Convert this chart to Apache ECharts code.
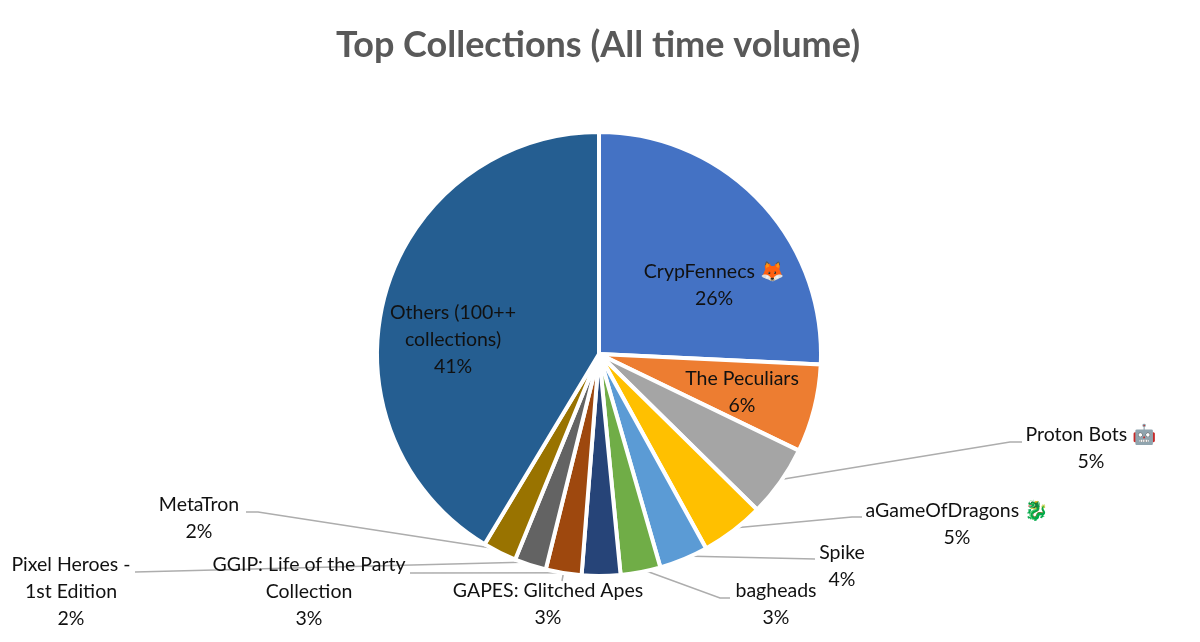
<!DOCTYPE html>
<html><head><meta charset="utf-8">
<style>html,body{margin:0;padding:0;background:#fff}#c{width:1200px;height:642px}</style>
<script src="https://cdn.jsdelivr.net/npm/echarts@6/dist/echarts.min.js"></script>
</head><body><div id="c"></div>
<script>
const names = ['CrypFennecs 🦊','The Peculiars','Proton Bots 🤖','aGameOfDragons 🐉','Spike','bagheads','GGIP: Life of the Party\nCollection','GAPES: Glitched Apes','Pixel Heroes -\n1st Edition','MetaTron','Others (100++\ncollections)'];
const values = [25.7,6.4,5.2,4.6,3.55,2.9,2.8,2.6,2.3,2.45,41.3];
const colors = ['#4472C4','#ED7D31','#A5A5A5','#FFC000','#5B9BD5','#70AD47','#264478','#9E480E','#636363','#997300','#255E91'];

// label centres and leader-line waypoints (layout only)
const labelCentres = [[714,285],[742,392],[1091,448],[957,524],[842,566],[776,604],[309,592],[548,604],[71,592],[199,518],[453,340]];
const leaderWays = [null,null,[[1010,442],[1022,442]],[[852,517],[862,517]],[[815,559]],[[720,598],[730,598]],[[410,573]],[[562,581]],[[135,572]],[[258,512],[246,512]],null];

const cx = 599, cy = 354, R = 222;
const total = values.reduce((a,b)=>a+b,0);
function edgePoint(i){
  let before = 0;
  for(let k=0;k<i;k++) before += values[k];
  const a = (before + values[i]/2)/total*2*Math.PI;
  return [cx + R*0.985*Math.sin(a), cy - R*0.985*Math.cos(a)];
}
const chart = echarts.init(document.getElementById('c'));
chart.setOption({
  animation:false,
  title:{text:'Top Collections (All time volume)',left:593,top:22,textAlign:'center',
    textStyle:{fontFamily:'Lato',fontWeight:'bold',fontSize:36,color:'#595959'}},
  series:[{
    type:'pie',center:[cx,cy],radius:[0,R],startAngle:90,clockwise:true,
    percentPrecision:0,avoidLabelOverlap:false,
    data:names.map((n,i)=>({name:n,value:values[i],itemStyle:{color:colors[i]}})),
    itemStyle:{borderColor:'#fff',borderWidth:4},
    label:{show:true,position:'outside',formatter:'{b}\n{d}%',color:'#111111',fontFamily:'Lato, "Noto Color Emoji"',fontSize:19.5,lineHeight:27,align:'center',verticalAlign:'middle'},
    labelLine:{show:true,length:10,length2:10,smooth:false,lineStyle:{color:'#ADADAD',width:1.5}},
    emphasis:{disabled:true},
    labelLayout:function(p){
      const i=p.dataIndex, c=labelCentres[i], way=leaderWays[i];
      const out={x:c[0],y:c[1],align:'center',verticalAlign:'middle'};
      if(way){const s=edgePoint(i);out.labelLinePoints=way.length===1?[s,way[0],way[0]]:[s,way[0],way[1]];}
      return out;
    }
  }]
});
</script></body></html>
